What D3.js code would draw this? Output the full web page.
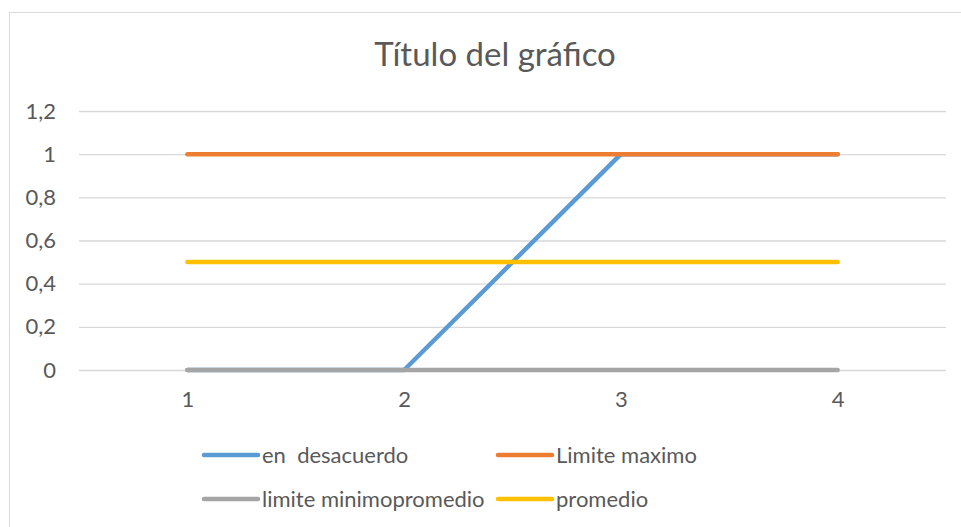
<!DOCTYPE html>
<html>
<head>
<meta charset="utf-8">
<script src="https://cdn.jsdelivr.net/npm/d3@7"></script>
<style>
  html, body { margin: 0; padding: 0; background: #fff; }
  svg { display: block; font-family: Lato, "Open Sans", sans-serif; }
  svg text { white-space: pre; }
</style>
</head>
<body>
<svg id="chart" width="961" height="527"></svg>
<script>
// Chart content
const chartTitle = "Título del gráfico";
const categories = ["1", "2", "3", "4"];
const seriesNames = ["en  desacuerdo", "Limite maximo", "limite minimopromedio", "promedio"];
const seriesColors = ["#5B9BD5", "#ED7D31", "#A5A5A5", "#FFC000"];
const enDesacuerdo = [0, 0, 1, 1];
const limiteMaximo = [1, 1, 1, 1];
const limiteMinimo = [0, 0, 0, 0];
const promedio = [0.5, 0.5, 0.5, 0.5];
const yTicks = [0, 0.2, 0.4, 0.6, 0.8, 1, 1.2];

const seriesValues = [enDesacuerdo, limiteMaximo, limiteMinimo, promedio];
const series = seriesNames.map((name, i) => ({ name, color: seriesColors[i], values: seriesValues[i] }));

const svg = d3.select("#chart");
const W = 961, H = 527;
const plot = { left: 79, right: 946, top: 111, bottom: 370 };
const textColor = "#595959";
const fontFamily = "Lato, 'Open Sans', sans-serif";

// chart area frame
svg.append("rect")
  .attr("x", 9.5).attr("y", 12.5)
  .attr("width", W - 9 + 5).attr("height", H - 12 + 5)
  .attr("fill", "#fff").attr("stroke", "#D9D9D9").attr("stroke-width", 1);

svg.append("text")
  .attr("x", 495).attr("y", 66)
  .attr("text-anchor", "middle")
  .attr("font-size", 33)
  .attr("fill", textColor)
  .text(chartTitle);

const x = d3.scalePoint().domain(categories).range([plot.left, plot.right]).padding(0.5);
const y = d3.scaleLinear().domain([0, 1.2]).range([plot.bottom, plot.top]);
const fmt = v => String(+v.toFixed(1)).replace(".", ",");

// horizontal gridlines + y labels
const yAxis = svg.append("g")
  .attr("transform", `translate(${plot.left},0)`)
  .call(d3.axisLeft(y).tickValues(yTicks).tickFormat(fmt)
    .tickSize(-(plot.right - plot.left)).tickPadding(23));
yAxis.select(".domain").remove();
yAxis.selectAll(".tick line").attr("stroke", "#D9D9D9").attr("stroke-width", 1.3);
yAxis.selectAll(".tick text").attr("fill", textColor).attr("font-size", 22)
  .attr("font-family", fontFamily);

// x labels
const xAxis = svg.append("g")
  .attr("transform", `translate(0,${plot.bottom})`)
  .call(d3.axisBottom(x).tickSize(0).tickPadding(21));
xAxis.select(".domain").remove();
xAxis.selectAll(".tick text").attr("fill", textColor).attr("font-size", 22)
  .attr("font-family", fontFamily);

// series lines
const line = d3.line().x((d, i) => x(categories[i])).y(d => y(d));
svg.append("g").selectAll("path")
  .data(series).join("path")
  .attr("d", d => line(d.values))
  .attr("fill", "none")
  .attr("stroke", d => d.color)
  .attr("stroke-width", 4.5)
  .attr("stroke-linecap", "round")
  .attr("stroke-linejoin", "round");

// legend, two rows of two entries
const legendPos = [[204, 455], [498, 455], [204, 499], [498, 499]];
const lg = svg.append("g").selectAll("g")
  .data(series).join("g")
  .attr("transform", (d, i) => `translate(${legendPos[i][0]},${legendPos[i][1]})`);
lg.append("line")
  .attr("x1", 0).attr("x2", 54).attr("y1", 0).attr("y2", 0)
  .attr("stroke", d => d.color).attr("stroke-width", 4.5).attr("stroke-linecap", "round");
lg.append("text")
  .attr("x", 58).attr("y", 0).attr("dy", "0.35em")
  .attr("font-size", 22).attr("fill", textColor)
  .text(d => d.name);
</script>
</body>
</html>
